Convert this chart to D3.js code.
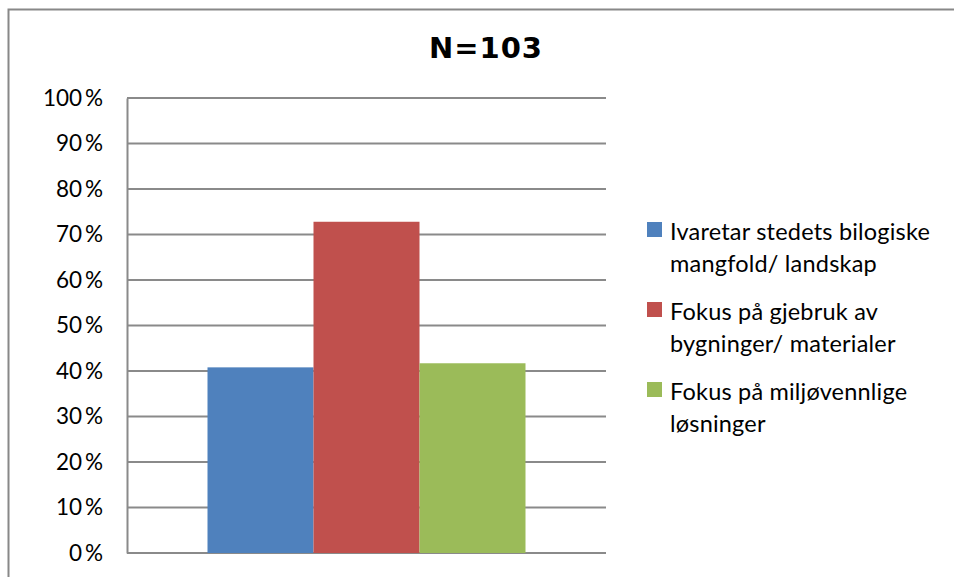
<!DOCTYPE html>
<html>
<head>
<meta charset="utf-8">
<script src="https://cdn.jsdelivr.net/npm/d3@7"></script>
<style>
  body { margin: 0; background: #fff; overflow: hidden; }
  svg { display: block; font-family: Lato, "Open Sans", sans-serif; }
</style>
</head>
<body>
<svg id="chart"></svg>
<script>
const title = "N=103"
const seriesNames = ["Ivaretar stedets bilogiske mangfold/ landskap",
                     "Fokus på gjebruk av bygninger/ materialer",
                     "Fokus på miljøvennlige løsninger"]
const legendLines = [["Ivaretar stedets bilogiske", "mangfold/ landskap"],
                     ["Fokus på gjebruk av", "bygninger/ materialer"],
                     ["Fokus på miljøvennlige", "løsninger"]]
const seriesValues = [40.8, 72.8, 41.7]
const seriesColors = ["#4f81bd", "#c0504d", "#9bbb59"]
const yTicks = [0, 10, 20, 30, 40, 50, 60, 70, 80, 90, 100]

const W = 954, H = 577
const svg = d3.select("#chart").attr("width", W).attr("height", H)

// outer chart frame: only top and left edges are inside the picture
svg.append("path")
    .attr("d", `M8.5,${H} V9.5 H${W + 10}`)
    .attr("fill", "none")
    .attr("stroke", "#888").attr("stroke-width", 2)

const plot = { left: 127, right: 606, top: 98, bottom: 553 }

const y = d3.scaleLinear().domain([0, 100]).range([plot.bottom, plot.top])
const x = d3.scaleBand().domain(["g"]).range([plot.left, plot.right])
const groupWidth = 318
const xs = d3.scaleBand().domain(d3.range(seriesValues.length))
    .range([x("g") + (x.bandwidth() - groupWidth) / 2, x("g") + (x.bandwidth() + groupWidth) / 2])

// gridlines
svg.append("g").selectAll("line")
    .data(yTicks)
    .join("line")
    .attr("x1", plot.left).attr("x2", plot.right)
    .attr("y1", d => y(d)).attr("y2", d => y(d))
    .attr("stroke", "#8a8a8a").attr("stroke-width", 2)

// y axis
const yAxis = svg.append("g")
    .attr("transform", `translate(${plot.left},0)`)
    .call(d3.axisLeft(y).tickValues(yTicks).tickSize(0).tickPadding(24).tickFormat(d => d + "\u2009%"))
yAxis.select(".domain").attr("stroke", "#8a8a8a").attr("stroke-width", 2)
yAxis.selectAll("text").attr("font-size", 22.5).attr("fill", "#000")
    .attr("font-family", "Lato, sans-serif")

// bars
svg.append("g").selectAll("rect")
    .data(seriesValues)
    .join("rect")
    .attr("x", (d, i) => xs(i))
    .attr("width", xs.bandwidth())
    .attr("y", d => y(d))
    .attr("height", d => y(0) - y(d))
    .attr("fill", (d, i) => seriesColors[i])

// title
svg.append("text")
    .attr("x", 486).attr("y", 58)
    .attr("text-anchor", "middle")
    .attr("font-family", "'DejaVu Sans', Verdana, sans-serif")
    .attr("font-weight", "bold")
    .attr("font-size", 29)
    .attr("letter-spacing", 1)
    .text(title)

// legend
const legend = svg.append("g").attr("transform", "translate(647,222)")
const item = legend.selectAll("g")
    .data(seriesNames)
    .join("g")
    .attr("transform", (d, i) => `translate(0,${i * 80})`)
item.append("rect")
    .attr("width", 15).attr("height", 15)
    .attr("fill", (d, i) => seriesColors[i])
item.append("text")
    .attr("x", 23).attr("y", 18)
    .attr("font-size", 23.5)
    .attr("letter-spacing", 0.2)
    .selectAll("tspan")
    .data((d, i) => legendLines[i])
    .join("tspan")
    .attr("x", 23)
    .attr("dy", (d, j) => j === 0 ? 0 : 32)
    .text(d => d)
</script>
</body>
</html>
